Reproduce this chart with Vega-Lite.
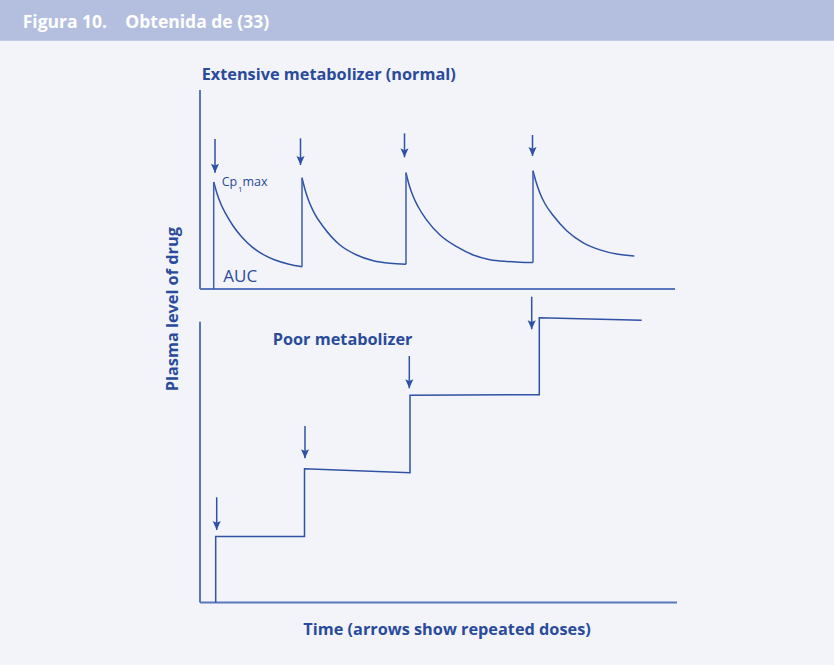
{
  "$schema": "https://vega.github.io/schema/vega-lite/v6.json",
  "width": 834,
  "height": 665,
  "autosize": {"type": "fit", "contains": "padding"},
  "padding": 0,
  "background": "#f3f4fa",
  "config": {"view": {"fill": "#f3f4fa", "stroke": null}},
  "datasets": {
    "header": [
      {"t": -40, "t2": 126.8, "v": 262.73, "v2": 225.73}
    ],
    "headerText": [
      {"t": -35.46, "v": 237.55, "text": "Figura 10.\u00a0\u00a0\u00a0\u00a0Obtenida de (33)"}
    ],
    "topAxes": [
      {"t": 0, "t2": 0, "v": 0, "v2": 180.9},
      {"t": 0, "t2": 95, "v": 0, "v2": 0}
    ],
    "botAxes": [
      {"t": 0, "t2": 0, "v": 0, "v2": 255.3},
      {"t": 0, "t2": 95.4, "v": 0, "v2": 0}
    ],
    "topCurve": [
      {"dose": 1, "t": 2.74, "v": 97.27},
      {"dose": 1, "t": 3.4, "v": 86.8},
      {"dose": 1, "t": 4.2, "v": 77.0},
      {"dose": 1, "t": 5.2, "v": 68.0},
      {"dose": 1, "t": 6.6, "v": 57.5},
      {"dose": 1, "t": 8.4, "v": 47.0},
      {"dose": 1, "t": 10.4, "v": 38.3},
      {"dose": 1, "t": 12.6, "v": 31.5},
      {"dose": 1, "t": 15.0, "v": 26.3},
      {"dose": 1, "t": 17.8, "v": 22.5},
      {"dose": 1, "t": 20.4, "v": 20.27},
      {"dose": 2, "t": 20.4, "v": 101.18},
      {"dose": 2, "t": 21.0, "v": 90.5},
      {"dose": 2, "t": 21.8, "v": 79.5},
      {"dose": 2, "t": 22.8, "v": 69.5},
      {"dose": 2, "t": 24.66, "v": 56.64},
      {"dose": 2, "t": 28.0, "v": 40.0},
      {"dose": 2, "t": 31.34, "v": 30.91},
      {"dose": 2, "t": 34.66, "v": 25.73},
      {"dose": 2, "t": 38.0, "v": 23.36},
      {"dose": 2, "t": 41.2, "v": 22.45},
      {"dose": 3, "t": 41.2, "v": 105.73},
      {"dose": 3, "t": 41.8, "v": 95.0},
      {"dose": 3, "t": 42.6, "v": 84.5},
      {"dose": 3, "t": 43.6, "v": 75.0},
      {"dose": 3, "t": 45.2, "v": 63.5},
      {"dose": 3, "t": 48.0, "v": 49.09},
      {"dose": 3, "t": 51.34, "v": 38.45},
      {"dose": 3, "t": 54.66, "v": 30.91},
      {"dose": 3, "t": 58.0, "v": 26.6},
      {"dose": 3, "t": 61.34, "v": 25.0},
      {"dose": 3, "t": 64.0, "v": 24.4},
      {"dose": 3, "t": 66.6, "v": 24.09},
      {"dose": 4, "t": 66.6, "v": 107.55},
      {"dose": 4, "t": 67.2, "v": 97.5},
      {"dose": 4, "t": 68.0, "v": 87.0},
      {"dose": 4, "t": 69.0, "v": 77.5},
      {"dose": 4, "t": 70.6, "v": 67.0},
      {"dose": 4, "t": 73.34, "v": 53.0},
      {"dose": 4, "t": 76.66, "v": 42.0},
      {"dose": 4, "t": 80.0, "v": 35.6},
      {"dose": 4, "t": 83.34, "v": 31.8},
      {"dose": 4, "t": 86.86, "v": 30.0}
    ],
    "topJumps": [
      {"t": 2.74, "v": 0, "v2": 97.27},
      {"t": 20.4, "v": 20.27, "v2": 101.18},
      {"t": 41.2, "v": 22.45, "v2": 105.73},
      {"t": 66.6, "v": 24.09, "v2": 107.55}
    ],
    "topArrows": [
      {"t": 3.0, "top": 136.4, "tip": 105.7},
      {"t": 20.1, "top": 137.0, "tip": 112.7},
      {"t": 40.9, "top": 141.5, "tip": 119.7},
      {"t": 66.5, "top": 140.0, "tip": 120.9}
    ],
    "botStep": [
      {"i": 0, "t": 3.14, "v": 0},
      {"i": 1, "t": 3.14, "v": 60.0},
      {"i": 2, "t": 20.9, "v": 60.0},
      {"i": 3, "t": 20.9, "v": 121.64},
      {"i": 4, "t": 42.0, "v": 118.0},
      {"i": 5, "t": 42.0, "v": 188.36},
      {"i": 6, "t": 67.86, "v": 188.91},
      {"i": 7, "t": 67.86, "v": 258.91},
      {"i": 8, "t": 88.34, "v": 256.55}
    ],
    "botArrows": [
      {"t": 3.34, "top": 95.64, "tip": 65.91},
      {"t": 21.0, "top": 160.45, "tip": 131.09},
      {"t": 41.86, "top": 224.09, "tip": 194.73},
      {"t": 66.34, "top": 278.0, "tip": 248.36}
    ],
    "topBold": [
      {"t": 0.34, "v": 190.0, "text": "Extensive metabolizer (normal)"}
    ],
    "botBold": [
      {"t": 14.54, "v": 234.09, "text": "Poor metabolizer"},
      {"t": 20.66, "v": -29.55, "text": "Time (arrows show repeated doses)"}
    ],
    "yTitle": [
      {"t": -4.4, "v": 266.64, "text": "Plasma level of drug"}
    ],
    "auc": [
      {"t": 4.66, "v": 6.09, "text": "AUC"}
    ],
    "cp": [
      {"t": 4.34, "v": 93.64, "text": "Cp"},
      {"t": 8.5, "v": 93.64, "text": "max"}
    ],
    "cpSub": [
      {"t": 7.6, "v": 87.73, "text": "1"}
    ]
  },
  "layer": [
    {
      "data": {"name": "header"},
      "mark": {"type": "rect", "color": "#b4bfdf"},
      "encoding": {
        "x": {"field": "t", "type": "quantitative", "scale": {"domain": [-40, 126.8], "nice": false, "zero": false}, "axis": null},
        "x2": {"field": "t2"},
        "y": {"field": "v", "type": "quantitative", "scale": {"domain": [-341.82, 262.73], "nice": false, "zero": false}, "axis": null},
        "y2": {"field": "v2"}
      }
    },
    {
      "data": {"name": "headerText"},
      "mark": {"type": "text", "font": "Open Sans", "fontWeight": "bold", "fontSize": 17.5, "color": "#ffffff", "align": "left", "baseline": "alphabetic"},
      "encoding": {
        "x": {"field": "t", "type": "quantitative", "scale": {"domain": [-40, 126.8], "nice": false, "zero": false}, "axis": null},
        "y": {"field": "v", "type": "quantitative", "scale": {"domain": [-341.82, 262.73], "nice": false, "zero": false}, "axis": null},
        "text": {"field": "text"}
      }
    },
    {
      "data": {"name": "topAxes"},
      "mark": {"type": "rule", "color": "#5a76bc", "strokeWidth": 2},
      "encoding": {
        "x": {"field": "t", "type": "quantitative", "scale": {"domain": [-40, 126.8], "nice": false, "zero": false}, "axis": null},
        "x2": {"field": "t2"},
        "y": {"field": "v", "type": "quantitative", "scale": {"domain": [-341.82, 262.73], "nice": false, "zero": false}, "axis": null},
        "y2": {"field": "v2"}
      }
    },
    {
      "data": {"name": "botAxes"},
      "mark": {"type": "rule", "color": "#5a76bc", "strokeWidth": 2},
      "encoding": {
        "x": {"field": "t", "type": "quantitative", "scale": {"domain": [-40, 126.8], "nice": false, "zero": false}, "axis": null},
        "x2": {"field": "t2"},
        "y": {"field": "v", "type": "quantitative", "scale": {"domain": [-56.82, 547.73], "nice": false, "zero": false}, "axis": null},
        "y2": {"field": "v2"}
      }
    },
    {
      "data": {"name": "topCurve"},
      "mark": {"type": "line", "color": "#2f52a4", "strokeWidth": 1.5, "interpolate": "monotone"},
      "encoding": {
        "x": {"field": "t", "type": "quantitative", "scale": {"domain": [-40, 126.8], "nice": false, "zero": false}, "axis": null},
        "y": {"field": "v", "type": "quantitative", "scale": {"domain": [-341.82, 262.73], "nice": false, "zero": false}, "axis": null},
        "detail": {"field": "dose", "type": "nominal"}
      }
    },
    {
      "data": {"name": "topJumps"},
      "mark": {"type": "rule", "color": "#3d5eac", "strokeWidth": 1.5},
      "encoding": {
        "x": {"field": "t", "type": "quantitative", "scale": {"domain": [-40, 126.8], "nice": false, "zero": false}, "axis": null},
        "y": {"field": "v", "type": "quantitative", "scale": {"domain": [-341.82, 262.73], "nice": false, "zero": false}, "axis": null},
        "y2": {"field": "v2"}
      }
    },
    {
      "data": {"name": "topArrows"},
      "mark": {"type": "rule", "color": "#2f52a4", "strokeWidth": 1.5},
      "encoding": {
        "x": {"field": "t", "type": "quantitative", "scale": {"domain": [-40, 126.8], "nice": false, "zero": false}, "axis": null},
        "y": {"field": "top", "type": "quantitative", "scale": {"domain": [-341.82, 262.73], "nice": false, "zero": false}, "axis": null},
        "y2": {"field": "tip"}
      }
    },
    {
      "data": {"name": "topArrows"},
      "mark": {"type": "point", "shape": "M0,0 L-0.9,-2 L0,-1.6 L0.9,-2 Z", "size": 81, "filled": true, "opacity": 1, "color": "#2f52a4", "strokeWidth": 0},
      "encoding": {
        "x": {"field": "t", "type": "quantitative", "scale": {"domain": [-40, 126.8], "nice": false, "zero": false}, "axis": null},
        "y": {"field": "tip", "type": "quantitative", "scale": {"domain": [-341.82, 262.73], "nice": false, "zero": false}, "axis": null}
      }
    },
    {
      "data": {"name": "botStep"},
      "mark": {"type": "line", "color": "#2f52a4", "strokeWidth": 1.5},
      "encoding": {
        "x": {"field": "t", "type": "quantitative", "scale": {"domain": [-40, 126.8], "nice": false, "zero": false}, "axis": null},
        "y": {"field": "v", "type": "quantitative", "scale": {"domain": [-56.82, 547.73], "nice": false, "zero": false}, "axis": null},
        "order": {"field": "i", "type": "quantitative"}
      }
    },
    {
      "data": {"name": "botArrows"},
      "mark": {"type": "rule", "color": "#2f52a4", "strokeWidth": 1.5},
      "encoding": {
        "x": {"field": "t", "type": "quantitative", "scale": {"domain": [-40, 126.8], "nice": false, "zero": false}, "axis": null},
        "y": {"field": "top", "type": "quantitative", "scale": {"domain": [-56.82, 547.73], "nice": false, "zero": false}, "axis": null},
        "y2": {"field": "tip"}
      }
    },
    {
      "data": {"name": "botArrows"},
      "mark": {"type": "point", "shape": "M0,0 L-0.9,-2 L0,-1.6 L0.9,-2 Z", "size": 81, "filled": true, "opacity": 1, "color": "#2f52a4", "strokeWidth": 0},
      "encoding": {
        "x": {"field": "t", "type": "quantitative", "scale": {"domain": [-40, 126.8], "nice": false, "zero": false}, "axis": null},
        "y": {"field": "tip", "type": "quantitative", "scale": {"domain": [-56.82, 547.73], "nice": false, "zero": false}, "axis": null}
      }
    },
    {
      "data": {"name": "topBold"},
      "mark": {"type": "text", "font": "Open Sans", "fontWeight": "bold", "fontSize": 16.3, "color": "#2a4b9b", "align": "left", "baseline": "alphabetic"},
      "encoding": {
        "x": {"field": "t", "type": "quantitative", "scale": {"domain": [-40, 126.8], "nice": false, "zero": false}, "axis": null},
        "y": {"field": "v", "type": "quantitative", "scale": {"domain": [-341.82, 262.73], "nice": false, "zero": false}, "axis": null},
        "text": {"field": "text"}
      }
    },
    {
      "data": {"name": "botBold"},
      "mark": {"type": "text", "font": "Open Sans", "fontWeight": "bold", "fontSize": 16.3, "color": "#2a4b9b", "align": "left", "baseline": "alphabetic"},
      "encoding": {
        "x": {"field": "t", "type": "quantitative", "scale": {"domain": [-40, 126.8], "nice": false, "zero": false}, "axis": null},
        "y": {"field": "v", "type": "quantitative", "scale": {"domain": [-56.82, 547.73], "nice": false, "zero": false}, "axis": null},
        "text": {"field": "text"}
      }
    },
    {
      "data": {"name": "yTitle"},
      "mark": {"type": "text", "font": "Open Sans", "fontWeight": "bold", "fontSize": 16.3, "color": "#2a4b9b", "align": "center", "baseline": "alphabetic", "angle": 270},
      "encoding": {
        "x": {"field": "t", "type": "quantitative", "scale": {"domain": [-40, 126.8], "nice": false, "zero": false}, "axis": null},
        "y": {"field": "v", "type": "quantitative", "scale": {"domain": [-56.82, 547.73], "nice": false, "zero": false}, "axis": null},
        "text": {"field": "text"}
      }
    },
    {
      "data": {"name": "auc"},
      "mark": {"type": "text", "font": "Open Sans", "fontSize": 17, "color": "#2a4b9b", "align": "left", "baseline": "alphabetic"},
      "encoding": {
        "x": {"field": "t", "type": "quantitative", "scale": {"domain": [-40, 126.8], "nice": false, "zero": false}, "axis": null},
        "y": {"field": "v", "type": "quantitative", "scale": {"domain": [-341.82, 262.73], "nice": false, "zero": false}, "axis": null},
        "text": {"field": "text"}
      }
    },
    {
      "data": {"name": "cp"},
      "mark": {"type": "text", "font": "Open Sans", "fontSize": 12.5, "color": "#2a4b9b", "align": "left", "baseline": "alphabetic"},
      "encoding": {
        "x": {"field": "t", "type": "quantitative", "scale": {"domain": [-40, 126.8], "nice": false, "zero": false}, "axis": null},
        "y": {"field": "v", "type": "quantitative", "scale": {"domain": [-341.82, 262.73], "nice": false, "zero": false}, "axis": null},
        "text": {"field": "text"}
      }
    },
    {
      "data": {"name": "cpSub"},
      "mark": {"type": "text", "font": "Open Sans", "fontSize": 8, "color": "#2a4b9b", "align": "left", "baseline": "alphabetic"},
      "encoding": {
        "x": {"field": "t", "type": "quantitative", "scale": {"domain": [-40, 126.8], "nice": false, "zero": false}, "axis": null},
        "y": {"field": "v", "type": "quantitative", "scale": {"domain": [-341.82, 262.73], "nice": false, "zero": false}, "axis": null},
        "text": {"field": "text"}
      }
    }
  ],
  "resolve": {"scale": {"y": "independent"}}
}
